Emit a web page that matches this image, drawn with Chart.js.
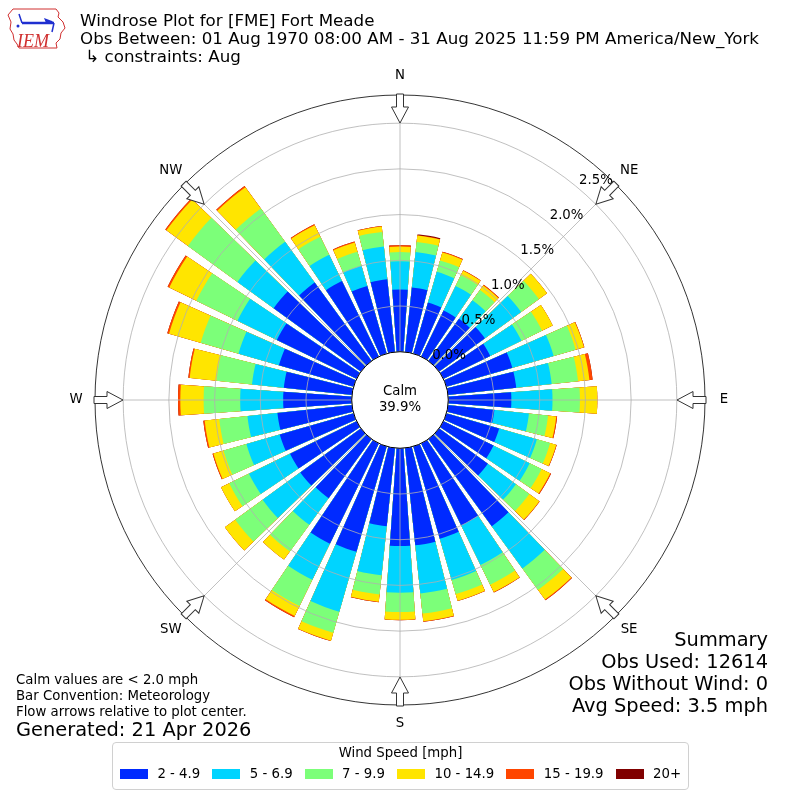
<!DOCTYPE html>
<html>
<head>
<meta charset="utf-8">
<title>Windrose Plot for [FME] Fort Meade</title>
<script src="https://cdn.jsdelivr.net/npm/chart.js@4.4.1/dist/chart.umd.min.js"></script>
<style>
  html, body { margin: 0; padding: 0; background: #fff; }
  body { width: 800px; height: 800px; position: relative; overflow: hidden;
         font-family: "DejaVu Sans", sans-serif; color: #000; }
  #rose { position: absolute; left: 0; top: 0; }
  .txt { position: absolute; white-space: nowrap; }
  #logo { position: absolute; left: 4px; top: 4px; }
  #title { left: 80px; top: 11px; font-size: 16.7px; line-height: 18px; }
  #notes { left: 16px; top: 672px; font-size: 13.3px; line-height: 16px; }
  #generated { left: 16px; top: 719px; font-size: 19.4px; line-height: 22px; }
  #summary { right: 32px; top: 629px; font-size: 19.4px; line-height: 22px; text-align: right; }
  #legend { position: absolute; left: 112px; top: 742px; width: 577px; height: 48px; box-sizing: border-box;
            border: 1px solid #d0d0d0; border-radius: 4px; font-size: 13.3px; }
  #legendTitle { text-align: center; margin-top: 2px; line-height: 16px; }
  #legendItems { display: flex; justify-content: center; margin-top: 5px; line-height: 16px; }
  .item { display: flex; align-items: center; margin: 0 6px; }
  .swatch { width: 28px; height: 10px; margin-right: 9.5px; }
</style>
</head>
<body>
<canvas id="rose" width="800" height="800"></canvas>

<svg id="logo" width="64" height="48" viewBox="0 0 64 48">
  <path d="M9 5 L52 5 L55 9 L54 13 L59 18 L61 24 L57 29 L56 35 L52 39 L53 44 L15 44 L13 40 L10 36 L9 30 L6 25 L7 18 L4 11 Z"
        fill="none" stroke="#d03030" stroke-width="1"/>
  <line x1="18" y1="19" x2="50" y2="19" stroke="#1f2fd0" stroke-width="2.5"/>
  <line x1="18" y1="19" x2="15" y2="10" stroke="#1f2fd0" stroke-width="1.5"/>
  <path d="M40 14 L48 17 L50 19 L42 19 Z" fill="#1f2fd0"/>
  <line x1="50" y1="19" x2="48" y2="28" stroke="#1f2fd0" stroke-width="1.5"/>
  <circle cx="14" cy="22" r="1.5" fill="#1f2fd0"/>
  <text x="13" y="43" font-family="Liberation Serif, serif" font-style="italic" font-size="18" fill="#d03030">IEM</text>
</svg>

<div id="title" class="txt">Windrose Plot for [FME] Fort Meade<br>Obs Between: 01 Aug 1970 08:00 AM - 31 Aug 2025 11:59 PM America/New_York<br>&nbsp;↳ constraints: Aug</div>
<div id="notes" class="txt">Calm values are &lt; 2.0 mph<br>Bar Convention: Meteorology<br>Flow arrows relative to plot center.</div>
<div id="generated" class="txt">Generated: 21 Apr 2026</div>
<div id="summary" class="txt">Summary<br>Obs Used: 12614<br>Obs Without Wind: 0<br>Avg Speed: 3.5 mph</div>
<div id="legend"><div id="legendTitle">Wind Speed [mph]</div><div id="legendItems"></div></div>

<script>
// direction the wind blows from, degrees (bars centred on these)
const directions = [0, 10, 20, 30, 40, 50, 60, 70, 80, 90, 100, 110, 120, 130, 140, 150, 160, 170,
                    180, 190, 200, 210, 220, 230, 240, 250, 260, 270, 280, 290, 300, 310, 320, 330, 340, 350];
const speedBins = ["2 - 4.9", "5 - 6.9", "7 - 9.9", "10 - 14.9", "15 - 19.9", "20+"];
const binColors = ["rgb(0,42,255)", "rgb(0,212,255)", "rgb(124,255,121)", "rgb(255,229,0)", "rgb(255,70,0)", "rgb(128,0,0)"];

// % of all obs in each direction for each speed bin
const speed2to5 = [0.68, 0.71, 0.58, 0.56, 0.57, 0.62, 0.57, 0.75, 0.75, 0.69,
                   0.51, 0.60, 0.61, 0.66, 1.18, 1.00, 1.05, 1.07, 1.07, 0.86,
                   1.20, 1.22, 0.80, 0.82, 0.81, 0.84, 0.82, 0.75, 0.75, 0.85,
                   0.97, 1.18, 1.06, 0.92, 0.77, 0.80];
const speed5to7 = [0.31, 0.39, 0.35, 0.30, 0.25, 0.49, 0.38, 0.47, 0.39, 0.45,
                   0.38, 0.43, 0.44, 0.38, 0.57, 0.48, 0.47, 0.53, 0.51, 0.54,
                   0.68, 0.44, 0.36, 0.51, 0.50, 0.38, 0.33, 0.47, 0.35, 0.46,
                   0.48, 0.49, 0.55, 0.32, 0.23, 0.36];
const speed7to10 = [0.10, 0.11, 0.13, 0.13, 0.14, 0.24, 0.25, 0.25, 0.29, 0.30,
                    0.21, 0.15, 0.145, 0.18, 0.29, 0.24, 0.16, 0.22, 0.21, 0.21,
                    0.24, 0.32, 0.36, 0.37, 0.24, 0.26, 0.31, 0.40, 0.39, 0.43,
                    0.50, 0.67, 0.45, 0.22, 0.16, 0.16];
const speed10to15 = [0.06, 0.07, 0.09, 0.055, 0.06, 0.11, 0.13, 0.095, 0.125, 0.19,
                     0.09, 0.07, 0.105, 0.135, 0.13, 0.09, 0.075, 0.085, 0.085, 0.08,
                     0.09, 0.12, 0.11, 0.14, 0.10, 0.115, 0.16, 0.255, 0.295, 0.36,
                     0.33, 0.29, 0.29, 0.14, 0.105, 0.06];
const speed15to20 = [0.015, 0.005, 0.01, 0.005, 0.01, 0, 0, 0.005, 0.035, 0,
                     0.01, 0.005, 0.01, 0.005, 0.01, 0.005, 0.005, 0.005, 0.005, 0.005,
                     0.005, 0.015, 0, 0, 0, 0.01, 0.015, 0.025, 0.015, 0.02,
                     0.02, 0.015, 0.015, 0.01, 0.01, 0.005];
const speed20up = [0, 0.01, 0, 0, 0, 0, 0, 0, 0, 0,
                   0, 0, 0, 0, 0, 0, 0, 0, 0, 0,
                   0, 0, 0, 0, 0, 0, 0, 0, 0, 0,
                   0, 0, 0, 0, 0, 0];

const ringTicks = [0, 0.5, 1.0, 1.5, 2.0, 2.5];
const compassNames = ["N", "NE", "E", "SE", "S", "SW", "W", "NW"];
const calmPercent = 39.9;

// radial axis: 0% sits on the edge of the calm circle
const axisMin = -0.528;
const axisMax = 2.808;
const barOpening = 0.8;
const labelAngle = 40 * Math.PI / 180;

// stacked totals, drawn biggest first so each bin shows as a band
const binSeries = [speed2to5, speed5to7, speed7to10, speed10to15, speed15to20, speed20up];
let running = directions.map(() => 0);
const datasets = binSeries.map((vals, i) => {
  running = running.map((v, j) => v + vals[j]);
  return {
    label: speedBins[i],
    data: running.slice(),
    backgroundColor: binColors[i],
    borderWidth: 0
  };
});

// legend
const legendItems = document.getElementById("legendItems");
speedBins.forEach((name, i) => {
  const item = document.createElement("div");
  item.className = "item";
  item.innerHTML = '<span class="swatch" style="background:' + binColors[i] + '"></span><span>' + name + "</span>";
  legendItems.appendChild(item);
});

const roseDecor = {
  id: "roseDecor",
  afterDatasetsUpdate(chart) {
    chart.data.datasets.forEach((ds, i) => {
      chart.getDatasetMeta(i).data.forEach((arc) => {
        const mid = (arc.startAngle + arc.endAngle) / 2;
        const half = (arc.endAngle - arc.startAngle) / 2 * barOpening;
        arc.startAngle = mid - half;
        arc.endAngle = mid + half;
      });
    });
  },
  afterDraw(chart) {
    const ctx = chart.ctx;
    const r = chart.scales.r;
    const cx = r.xCenter, cy = r.yCenter, outer = r.drawingArea;
    const calmR = r.getDistanceFromCenterForValue(0);
    ctx.save();

    // spokes
    ctx.strokeStyle = "#b0b0b0";
    ctx.lineWidth = 0.8;
    compassNames.forEach((name, k) => {
      const a = k * Math.PI / 4;
      ctx.beginPath();
      ctx.moveTo(cx, cy);
      ctx.lineTo(cx + outer * Math.sin(a), cy - outer * Math.cos(a));
      ctx.stroke();
    });

    // calm circle
    ctx.beginPath();
    ctx.arc(cx, cy, calmR, 0, 2 * Math.PI);
    ctx.fillStyle = "#fff";
    ctx.fill();
    ctx.strokeStyle = "#000";
    ctx.lineWidth = 1;
    ctx.stroke();

    ctx.fillStyle = "#000";
    ctx.font = '13.3px "DejaVu Sans"';
    ctx.textAlign = "center";
    ctx.textBaseline = "middle";
    ctx.fillText("Calm", cx, cy - 8);
    ctx.fillText(calmPercent.toFixed(1) + "%", cx, cy + 8);

    // ring labels
    ringTicks.forEach((v) => {
      const d = r.getDistanceFromCenterForValue(v);
      ctx.fillText(v.toFixed(1) + "%", cx + d * Math.sin(labelAngle) + 18, cy - d * Math.cos(labelAngle) - 7);
    });

    // flow arrows and compass names
    compassNames.forEach((name, k) => {
      const a = k * Math.PI / 4;
      ctx.save();
      ctx.translate(cx, cy);
      ctx.rotate(a);
      ctx.beginPath();
      ctx.moveTo(-3.5, -outer - 1);
      ctx.lineTo(-3.5, -outer + 12);
      ctx.lineTo(-8.5, -outer + 12);
      ctx.lineTo(0, -outer + 28);
      ctx.lineTo(8.5, -outer + 12);
      ctx.lineTo(3.5, -outer + 12);
      ctx.lineTo(3.5, -outer - 1);
      ctx.closePath();
      ctx.fillStyle = "#fff";
      ctx.fill();
      ctx.strokeStyle = "#333";
      ctx.lineWidth = 1;
      ctx.stroke();
      ctx.restore();
      ctx.fillStyle = "#000";
      ctx.fillText(name, cx + (outer + 19) * Math.sin(a), cy - (outer + 19) * Math.cos(a));
    });
    ctx.restore();
  }
};

new Chart(document.getElementById("rose"), {
  type: "polarArea",
  data: {
    labels: directions.map((d) => d + "°"),
    datasets: datasets
  },
  options: {
    responsive: false,
    animation: false,
    layout: { padding: 95 },
    plugins: {
      legend: { display: false },
      tooltip: { enabled: false }
    },
    scales: {
      r: {
        min: axisMin,
        max: axisMax,
        startAngle: -5,
        ticks: { display: false },
        afterBuildTicks: (scale) => {
          scale.ticks = ringTicks.concat([axisMax]).map((v) => ({ value: v }));
        },
        grid: {
          z: 1,
          lineWidth: 0.8,
          color: (c) => (c.tick && c.tick.value === axisMax ? "#000" : "#b0b0b0")
        }
      }
    }
  },
  plugins: [roseDecor]
});
</script>
</body>
</html>
